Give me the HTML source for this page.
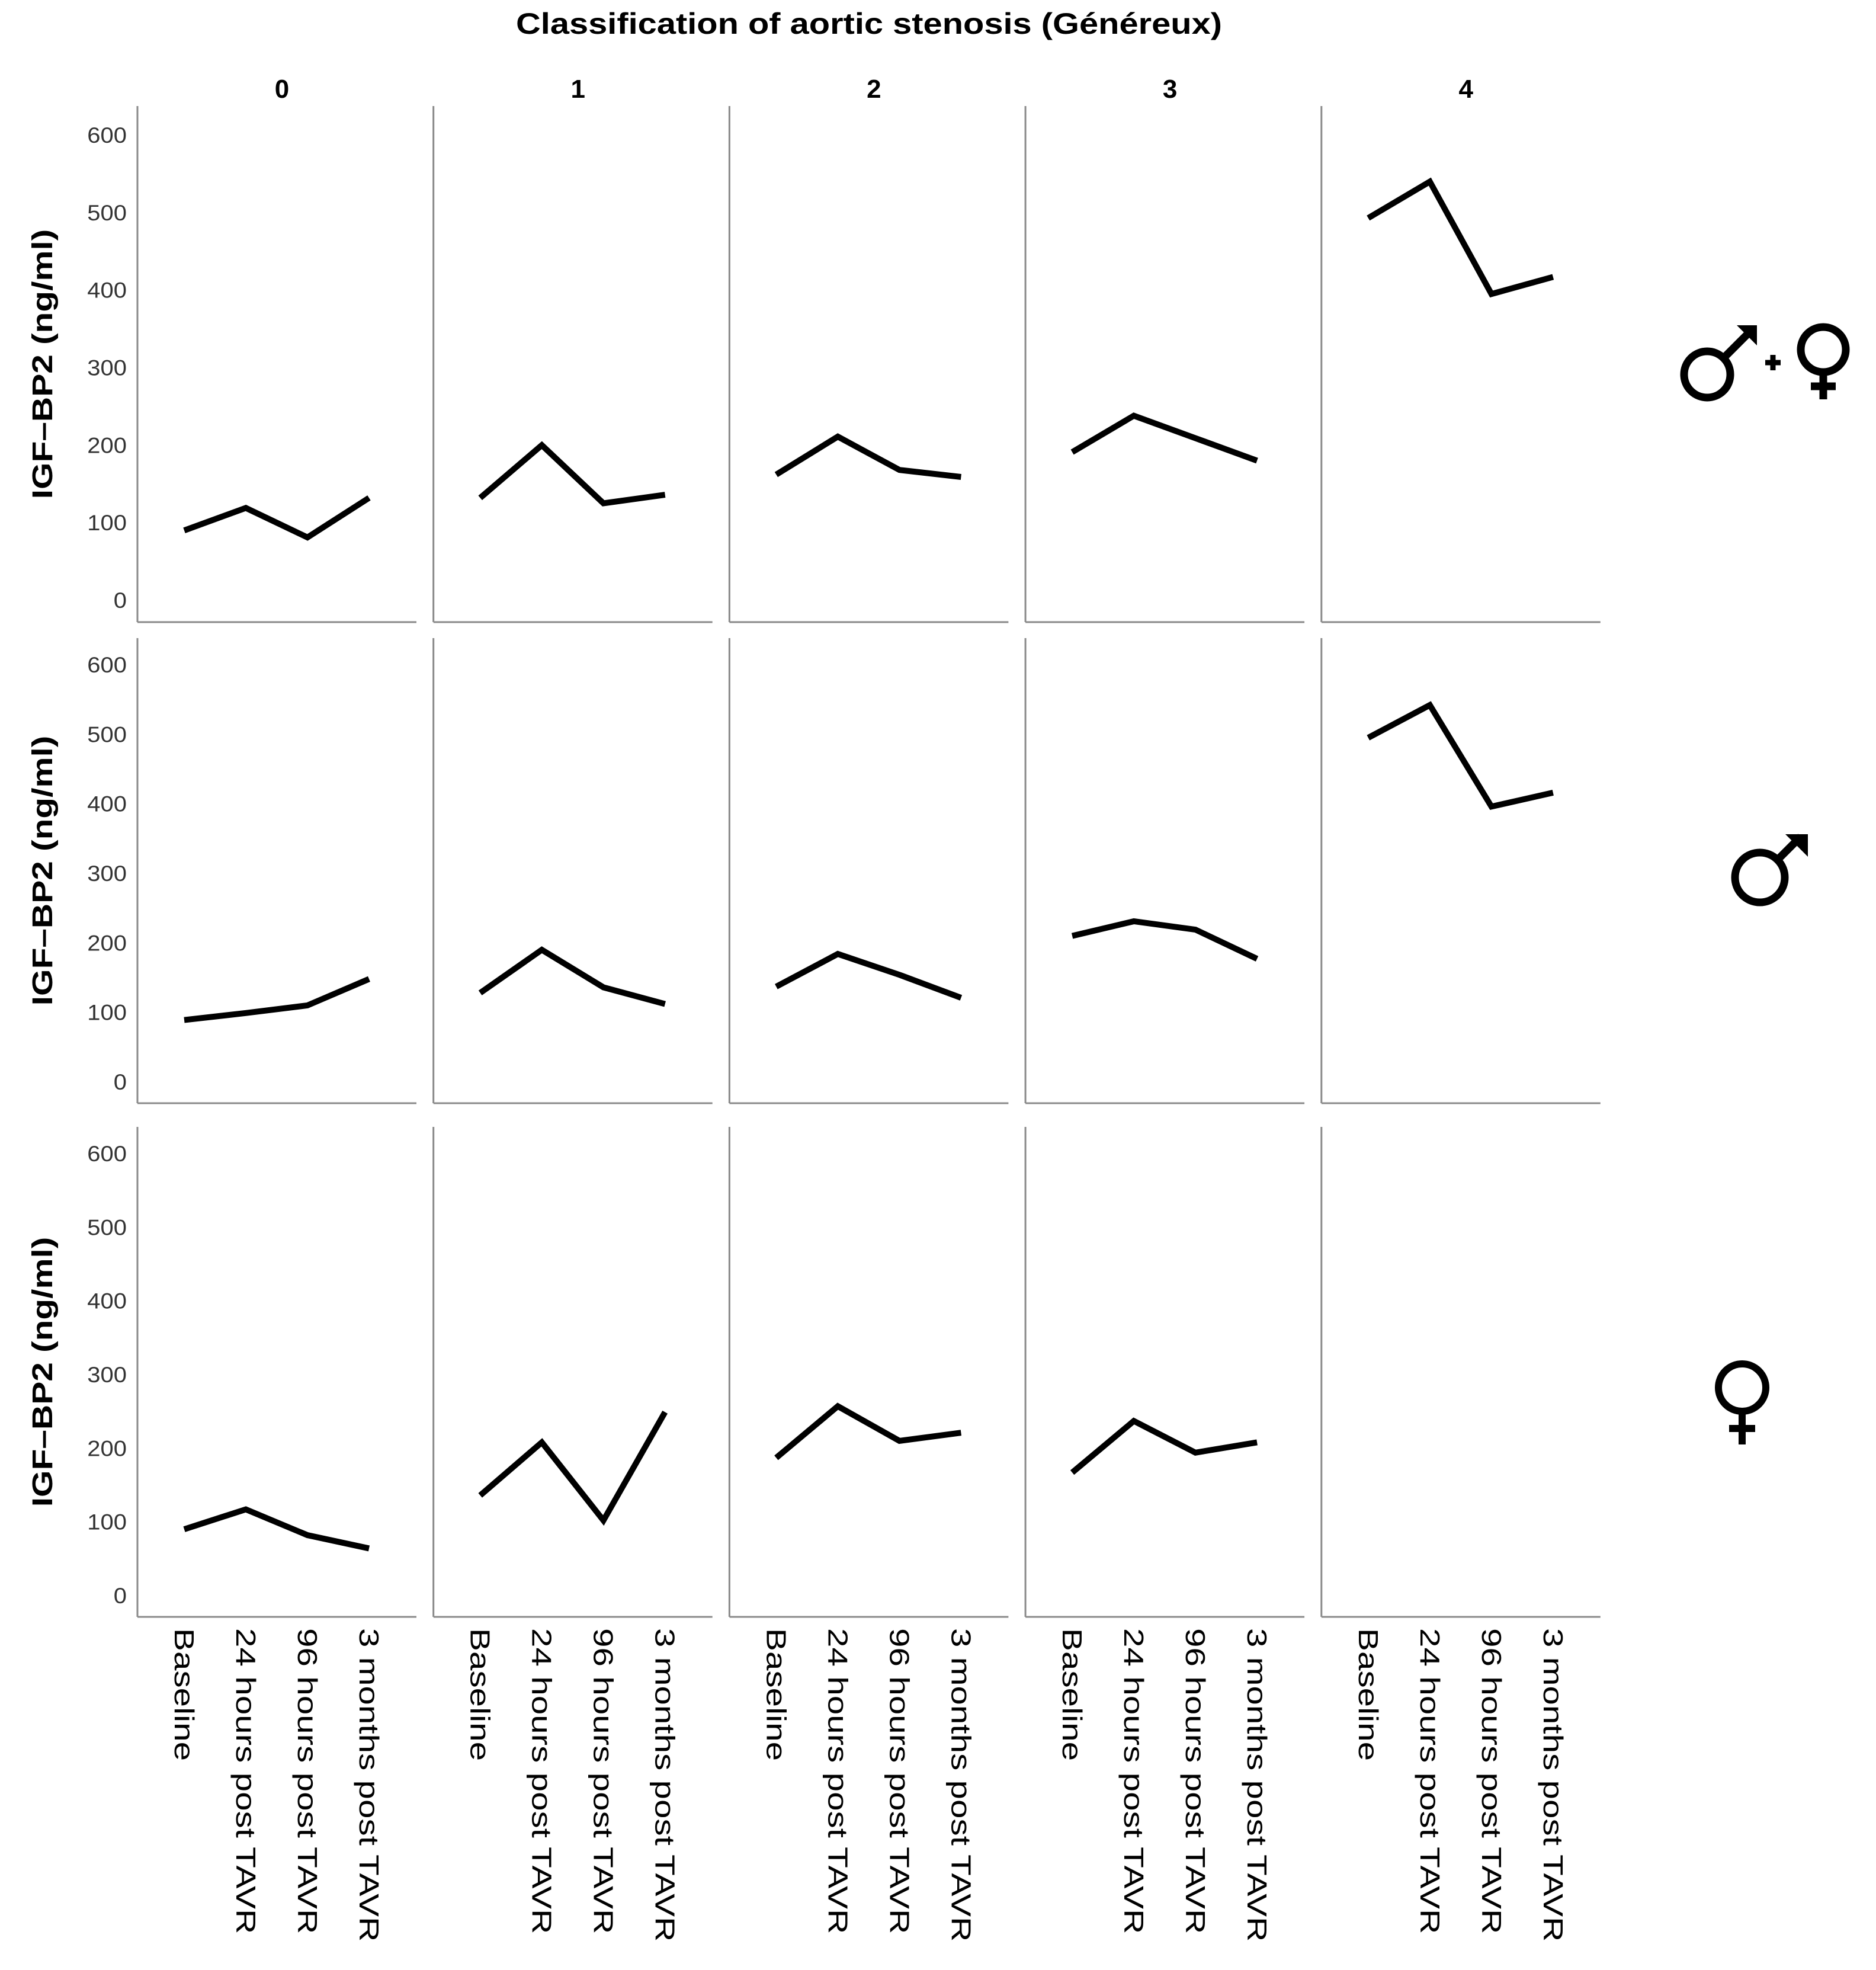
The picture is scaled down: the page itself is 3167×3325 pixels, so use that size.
<!DOCTYPE html>
<html><head><meta charset="utf-8"><style>
html,body{margin:0;padding:0;background:#fff}
svg{display:block}
</style></head><body>
<svg id="chart" width="3167" height="3325" viewBox="0 0 3167 3325" xmlns="http://www.w3.org/2000/svg" font-family="Liberation Sans, sans-serif">
<text x="1467" y="57" font-size="50" font-weight="bold" text-anchor="middle" textLength="1192" lengthAdjust="spacingAndGlyphs">Classification of aortic stenosis (Généreux)</text>
<g id="panels"></g>
<g fill="none" stroke="#000" stroke-width="13">
  <circle cx="2882" cy="632" r="39"/>
  <line x1="2910" y1="604" x2="2955" y2="559"/>
  <polygon points="2932,549 2966,549 2966,583" fill="#000" stroke="none"/>
  <line x1="2980" y1="612" x2="3006" y2="612" stroke-width="9"/>
  <line x1="2993" y1="599" x2="2993" y2="625" stroke-width="9"/>
  <circle cx="3078" cy="590" r="38"/>
  <line x1="3078" y1="628" x2="3078" y2="674"/>
  <line x1="3057" y1="652" x2="3099" y2="652"/>
</g>
<g fill="none" stroke="#000" stroke-width="13">
  <circle cx="2971" cy="1481" r="42"/>
  <line x1="3001" y1="1451" x2="3040" y2="1412"/>
  <polygon points="3014,1408 3052,1408 3052,1446" fill="#000" stroke="none"/>
</g>
<g fill="none" stroke="#000" stroke-width="12">
  <circle cx="2941" cy="2342" r="40"/>
  <line x1="2941" y1="2382" x2="2941" y2="2438"/>
  <line x1="2919" y1="2411" x2="2963" y2="2411"/>
</g>
</svg>
<script>
const categories = ["Baseline","24 hours post TAVR","96 hours post TAVR","3 months post TAVR"];
const groups = ["0","1","2","3","4"];
const yTicks = [0,100,200,300,400,500,600];
const rowAll = [[90,119,81,132],[132,200,125,136],[162,211,168,159],[191,238,209,180],[493,540,395,417]];
const rowMale = [[89,99,110,148],[128,190,136,112],[137,184,154,121],[210,231,219,177],[495,542,396,416]];
const rowFemale = [[90,117,82,64],[136,208,102,249],[187,257,210,221],[167,237,194,208],[]];
const seriesRows = [rowAll,rowMale,rowFemale];

const NS="http://www.w3.org/2000/svg";
const g=document.getElementById('panels');
const rowsLayout=[{top:179,bottom:1050,y0:1013,y600:228},{top:1077,bottom:1862,y0:1826,y600:1122},{top:1902,bottom:2729,y0:2693,y600:1947}];
const rowNames=['all','male','female'];
function mk(tag,attrs){const e=document.createElementNS(NS,tag);for(const k in attrs)e.setAttribute(k,attrs[k]);return e;}
function stretch(el,f){const w=el.getComputedTextLength();el.setAttribute('textLength',w*f);el.setAttribute('lengthAdjust','spacingAndGlyphs');}
const axisX0=232, panelStep=499.7, panelW=471;
function xPos(p,i){return axisX0+p*panelStep+79+i*104;}
seriesRows.forEach((rowData,r)=>{
  const L=rowsLayout[r];
  const yScale=v=>L.y0+(L.y600-L.y0)*v/600;
  yTicks.forEach(t=>{
    const tx=mk('text',{x:214,y:yScale(t)+13,'font-size':37,fill:'#333','text-anchor':'end'});
    
    
    tx.textContent=t;g.appendChild(tx);
    stretch(tx,1.08);
  });
  const cy=(L.top+L.bottom)/2;
  const yl=mk('text',{x:0,y:0,'font-size':48,'font-weight':'bold','text-anchor':'middle',transform:`translate(88,${cy}) rotate(-90)`});
  
  
  yl.textContent='IGF\u2013BP2 (ng/ml)';g.appendChild(yl);
  stretch(yl,1.22);
  groups.forEach((gname,p)=>{
    const ax=axisX0+p*panelStep;
    const pg=mk('g',{});
    
    
    pg.appendChild(mk('line',{x1:ax,y1:L.top,x2:ax,y2:L.bottom,stroke:'#8a8a8a','stroke-width':3}));
    pg.appendChild(mk('line',{x1:ax,y1:L.bottom,x2:ax+panelW,y2:L.bottom,stroke:'#8a8a8a','stroke-width':3}));
    const vals=rowData[p];
    if(vals.length){
      const pts=vals.map((v,i)=>xPos(p,i)+','+yScale(v)).join(' ');
      const pl=mk('polyline',{points:pts,fill:'none',stroke:'#000','stroke-width':10,'stroke-linejoin':'miter'});
      
      
      pg.appendChild(pl);
    }
    g.appendChild(pg);
    if(r===0){
      const h=mk('text',{x:ax+244,y:165,'font-size':44,'font-weight':'bold','text-anchor':'middle'});
      
      
      h.textContent=gname;g.appendChild(h);
    }
    if(r===2){
      categories.forEach((c,i)=>{
        const t=mk('text',{x:0,y:0,'font-size':46,transform:`translate(${xPos(p,i)-16},2748) rotate(90)`});
        
        
        t.textContent=c;g.appendChild(t);
        stretch(t,1.27);
      });
    }
  });
});
</script>
</body></html>
